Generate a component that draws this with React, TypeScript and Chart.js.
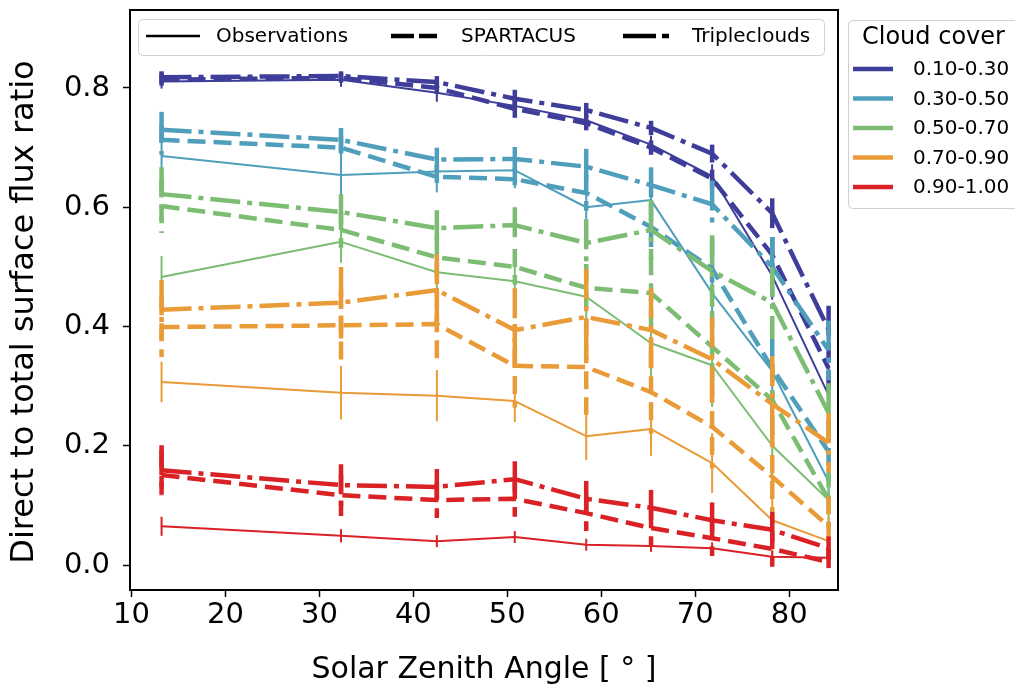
import React, { useEffect, useRef } from 'react';
import { Chart, registerables } from 'chart.js';

Chart.register(...registerables);

// Solar zenith angle bin centres
const sza = [13.2, 32.3, 42.5, 50.8, 58.4, 65.3, 71.8, 78.2, 84.2];
const xTicks = [10, 20, 30, 40, 50, 60, 70, 80];
const yTicks = [0, 0.2, 0.4, 0.6, 0.8];

const coverLabels = ['0.10-0.30', '0.30-0.50', '0.50-0.70', '0.70-0.90', '0.90-1.00'];
const coverColors = ['#3e3d99', '#4f9fbc', '#7cbc73', '#e89b37', '#d92126'];
const modelLabels = ['Observations', 'SPARTACUS', 'Tripleclouds'];

// 0.10-0.30
const obsA = [0.811, 0.814, 0.792, 0.770, 0.746, 0.705, 0.652, 0.485, 0.285];
const spA = [0.814, 0.817, 0.800, 0.765, 0.741, 0.700, 0.648, 0.520, 0.330];
const tcA = [0.818, 0.820, 0.810, 0.782, 0.763, 0.733, 0.690, 0.590, 0.395];
// 0.30-0.50
const obsB = [0.686, 0.654, 0.660, 0.662, 0.600, 0.612, 0.456, 0.325, 0.140];
const spB = [0.713, 0.700, 0.651, 0.647, 0.624, 0.567, 0.497, 0.330, 0.190];
const tcB = [0.730, 0.713, 0.680, 0.681, 0.668, 0.637, 0.605, 0.500, 0.360];
// 0.50-0.70
const obsC = [0.483, 0.542, 0.491, 0.476, 0.450, 0.372, 0.335, 0.200, 0.109];
const spC = [0.602, 0.562, 0.516, 0.500, 0.465, 0.456, 0.366, 0.277, 0.110];
const tcC = [0.622, 0.592, 0.565, 0.570, 0.540, 0.562, 0.493, 0.440, 0.255];
// 0.70-0.90
const obsD = [0.307, 0.289, 0.284, 0.275, 0.216, 0.228, 0.171, 0.075, 0.040];
const spD = [0.399, 0.402, 0.404, 0.334, 0.332, 0.290, 0.232, 0.148, 0.065];
const tcD = [0.428, 0.440, 0.461, 0.394, 0.416, 0.394, 0.345, 0.270, 0.205];
// 0.90-1.00
const obsE = [0.065, 0.049, 0.040, 0.047, 0.034, 0.032, 0.028, 0.014, 0.012];
const spE = [0.151, 0.117, 0.109, 0.111, 0.087, 0.062, 0.045, 0.027, 0.005];
const tcE = [0.159, 0.134, 0.131, 0.144, 0.111, 0.096, 0.075, 0.059, 0.028];

// error bar half-widths
const errObsA = [0.012, 0.012, 0.015, 0.015, 0.015, 0.015, 0.02, 0.04, 0.05];
const errSpA = [0.01, 0.008, 0.01, 0.015, 0.012, 0.012, 0.015, 0.03, 0.04];
const errTcA = [0.01, 0.008, 0.01, 0.015, 0.012, 0.012, 0.015, 0.025, 0.04];
const errObsB = [0.03, 0.045, 0.035, 0.03, 0.045, 0.05, 0.06, 0.06, 0.04];
const errSpB = [0.025, 0.02, 0.02, 0.02, 0.03, 0.04, 0.05, 0.05, 0.05];
const errTcB = [0.03, 0.02, 0.02, 0.02, 0.03, 0.03, 0.04, 0.05, 0.05];
const errObsC = [0.035, 0.035, 0.05, 0.04, 0.05, 0.06, 0.07, 0.08, 0.05];
const errSpC = [0.045, 0.03, 0.035, 0.03, 0.04, 0.06, 0.06, 0.06, 0.05];
const errTcC = [0.045, 0.03, 0.03, 0.03, 0.04, 0.05, 0.06, 0.06, 0.05];
const errObsD = [0.034, 0.045, 0.043, 0.035, 0.04, 0.045, 0.05, 0.07, 0.04];
const errSpD = [0.05, 0.06, 0.06, 0.07, 0.08, 0.07, 0.07, 0.08, 0.05];
const errTcD = [0.05, 0.06, 0.06, 0.07, 0.08, 0.07, 0.07, 0.08, 0.05];
const errObsE = [0.016, 0.011, 0.01, 0.01, 0.01, 0.01, 0.01, 0.01, 0.01];
const errSpE = [0.042, 0.035, 0.03, 0.03, 0.03, 0.03, 0.03, 0.03, 0.02];
const errTcE = [0.042, 0.035, 0.03, 0.03, 0.03, 0.03, 0.03, 0.03, 0.02];

const seriesByCover = [
  [obsA, spA, tcA],
  [obsB, spB, tcB],
  [obsC, spC, tcC],
  [obsD, spD, tcD],
  [obsE, spE, tcE],
];
const errByCover = [
  [errObsA, errSpA, errTcA],
  [errObsB, errSpB, errTcB],
  [errObsC, errSpC, errTcC],
  [errObsD, errSpD, errTcD],
  [errObsE, errSpE, errTcE],
];

const FONT = "'DejaVu Sans', sans-serif";
const styleWidths = [2, 4.5, 4.5];
const styleDashes: number[][] = [[], [18, 8], [30, 7, 5, 7]];

const errorBarPlugin = {
  id: 'errorBars',
  afterDatasetDraw(chart: any, args: any) {
    const ds = chart.data.datasets[args.index];
    const errs: number[] = ds.errors;
    if (!errs) return;
    const ctx = chart.ctx;
    const area = chart.chartArea;
    const ys = chart.scales.y;
    const meta = args.meta;
    ctx.save();
    ctx.beginPath();
    ctx.rect(area.left, area.top, area.right - area.left, area.bottom - area.top);
    ctx.clip();
    ctx.strokeStyle = ds.borderColor;
    ctx.lineWidth = ds.borderWidth;
    ctx.setLineDash(ds.borderDash || []);
    ctx.lineCap = 'butt';
    ds.data.forEach((pt: any, i: number) => {
      const el = meta.data[i];
      if (!el) return;
      const x = el.x;
      const y1 = ys.getPixelForValue(pt.y + errs[i]);
      const y2 = ys.getPixelForValue(pt.y - errs[i]);
      ctx.beginPath();
      ctx.moveTo(x, y1);
      ctx.lineTo(x, y2);
      ctx.stroke();
    });
    ctx.restore();
  },
};

function roundRect(ctx: CanvasRenderingContext2D, x: number, y: number, w: number, h: number, r: number) {
  ctx.beginPath();
  ctx.moveTo(x + r, y);
  ctx.lineTo(x + w - r, y);
  ctx.quadraticCurveTo(x + w, y, x + w, y + r);
  ctx.lineTo(x + w, y + h - r);
  ctx.quadraticCurveTo(x + w, y + h, x + w - r, y + h);
  ctx.lineTo(x + r, y + h);
  ctx.quadraticCurveTo(x, y + h, x, y + h - r);
  ctx.lineTo(x, y + r);
  ctx.quadraticCurveTo(x, y, x + r, y);
  ctx.closePath();
}

const decorPlugin = {
  id: 'decor',
  afterDraw(chart: any) {
    const ctx: CanvasRenderingContext2D = chart.ctx;
    const a = chart.chartArea;
    ctx.save();
    // frame
    ctx.strokeStyle = '#000';
    ctx.lineWidth = 2;
    ctx.setLineDash([]);
    ctx.strokeRect(a.left, a.top, a.right - a.left, a.bottom - a.top);

    // axis titles
    ctx.fillStyle = '#000';
    ctx.font = `30px ${FONT}`;
    ctx.textAlign = 'center';
    ctx.textBaseline = 'middle';
    ctx.fillText('Solar Zenith Angle [ ° ]', (a.left + a.right) / 2, 670);
    ctx.save();
    ctx.translate(25, 312);
    ctx.rotate(-Math.PI / 2);
    ctx.font = `32px ${FONT}`;
    ctx.fillText('Direct to total surface flux ratio', 0, 0);
    ctx.restore();

    // model legend (inside)
    ctx.fillStyle = 'rgba(255,255,255,0.85)';
    ctx.strokeStyle = '#d0d0d0';
    ctx.lineWidth = 1;
    roundRect(ctx, 138.5, 19.5, 686, 36, 4);
    ctx.fill();
    ctx.stroke();
    const mx = [[146, 200, 216], [391, 437, 461], [623, 670, 692]];
    const legDash: number[][] = [[], [23, 5], [33, 6, 7, 6]];
    const legW = [2.5, 4.5, 4.5];
    modelLabels.forEach((lab, i) => {
      const [x0, x1, tx] = mx[i];
      ctx.strokeStyle = '#000';
      ctx.lineWidth = legW[i];
      ctx.setLineDash(legDash[i]);
      ctx.beginPath();
      ctx.moveTo(x0, 36);
      ctx.lineTo(x1, 36);
      ctx.stroke();
      ctx.setLineDash([]);
      ctx.fillStyle = '#000';
      ctx.font = `20px ${FONT}`;
      ctx.textAlign = 'left';
      ctx.textBaseline = 'middle';
      ctx.fillText(lab, tx, 37);
    });

    // cloud cover legend (outside)
    ctx.fillStyle = 'rgba(255,255,255,0.85)';
    ctx.strokeStyle = '#d0d0d0';
    ctx.lineWidth = 1;
    roundRect(ctx, 848.5, 20.5, 180, 188, 4);
    ctx.fill();
    ctx.stroke();
    ctx.fillStyle = '#000';
    ctx.font = `24px ${FONT}`;
    ctx.textAlign = 'left';
    ctx.textBaseline = 'middle';
    ctx.fillText('Cloud cover', 862, 38);
    coverLabels.forEach((lab, i) => {
      const y = 69 + i * 29.5;
      ctx.strokeStyle = coverColors[i];
      ctx.lineWidth = 4.5;
      ctx.beginPath();
      ctx.moveTo(853, y);
      ctx.lineTo(893, y);
      ctx.stroke();
      ctx.fillStyle = '#000';
      ctx.font = `20px ${FONT}`;
      ctx.fillText(lab, 913, y + 1);
    });
    ctx.restore();
  },
};

export default function App() {
  const ref = useRef<HTMLCanvasElement>(null);
  useEffect(() => {
    document.body.style.margin = '0';
    const datasets: any[] = [];
    coverLabels.forEach((cl, ci) => {
      modelLabels.forEach((ml, mi) => {
        datasets.push({
          label: `${ml} ${cl}`,
          data: sza.map((x, k) => ({ x, y: seriesByCover[ci][mi][k] })),
          errors: errByCover[ci][mi],
          borderColor: coverColors[ci],
          backgroundColor: coverColors[ci],
          borderWidth: styleWidths[mi],
          borderDash: styleDashes[mi],
          pointRadius: 0,
          tension: 0,
          fill: false,
          borderCapStyle: 'butt',
          borderJoinStyle: 'round',
        });
      });
    });
    datasets.reverse(); // first dataset is drawn on top in Chart.js

    const tickFont = { family: FONT, size: 29 };
    const chart = new Chart(ref.current as HTMLCanvasElement, {
      type: 'line',
      data: { datasets },
      options: {
        animation: false,
        responsive: false,
        devicePixelRatio: 1,
        layout: { padding: { left: 0, right: 177, top: 10, bottom: 0 } },
        plugins: { legend: { display: false }, tooltip: { enabled: false } },
        scales: {
          x: {
            type: 'linear',
            min: 9.84,
            max: 85.2,
            afterBuildTicks: (s: any) => {
              s.ticks = xTicks.map((v) => ({ value: v }));
            },
            afterFit: (s: any) => {
              s.height = 98;
              s.paddingLeft = 0;
              s.paddingRight = 0;
            },
            ticks: {
              font: tickFont,
              color: '#000',
              padding: 1,
              maxRotation: 0,
              autoSkip: false,
              callback: (v: any) => String(v),
            },
            grid: {
              display: true,
              drawOnChartArea: false,
              drawTicks: true,
              tickLength: 7,
              tickWidth: 1.5,
              tickColor: '#000',
              color: '#000',
            },
            border: { display: false },
          },
          y: {
            type: 'linear',
            min: -0.0419,
            max: 0.9308,
            afterBuildTicks: (s: any) => {
              s.ticks = yTicks.map((v) => ({ value: v }));
            },
            afterFit: (s: any) => {
              s.width = 130;
              s.paddingTop = 0;
              s.paddingBottom = 0;
            },
            ticks: {
              font: tickFont,
              color: '#000',
              padding: 13,
              autoSkip: false,
              callback: (v: any) => Number(v).toFixed(1),
            },
            grid: {
              display: true,
              drawOnChartArea: false,
              drawTicks: true,
              tickLength: 7,
              tickWidth: 1.5,
              tickColor: '#000',
              color: '#000',
            },
            border: { display: false },
          },
        },
      } as any,
      plugins: [errorBarPlugin, decorPlugin],
    });
    return () => chart.destroy();
  }, []);

  return (
    <div style={{ position: 'fixed', left: 0, top: 0, width: 1015, height: 688, background: '#fff' }}>
      <canvas ref={ref} width={1015} height={688} style={{ width: 1015, height: 688, display: 'block' }} />
    </div>
  );
}
